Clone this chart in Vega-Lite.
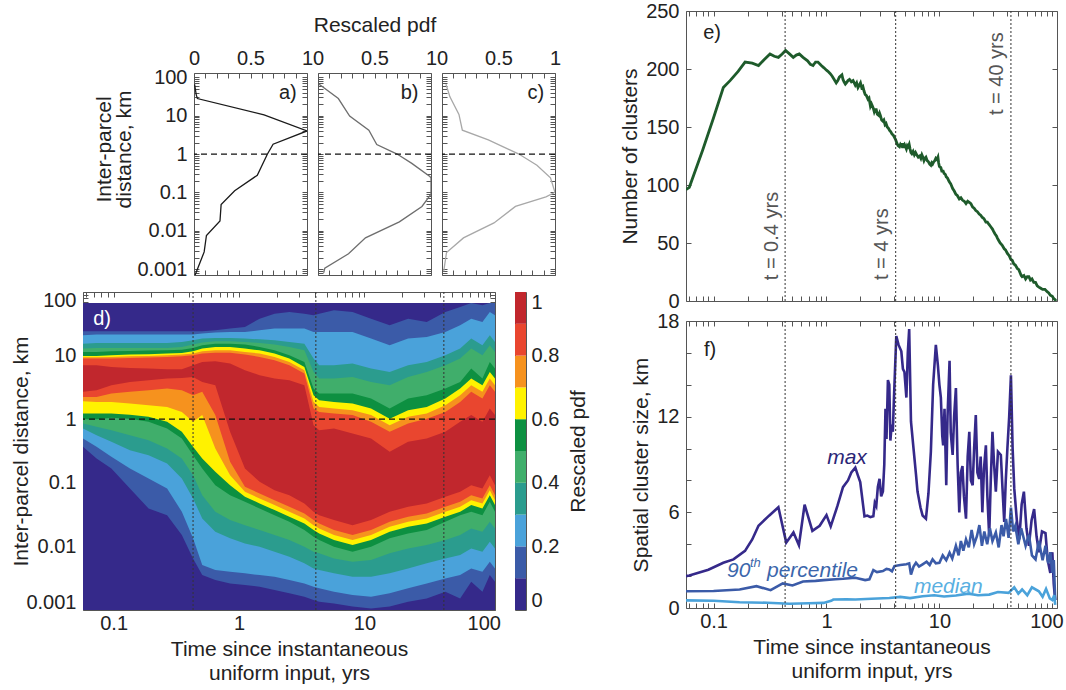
{
"$schema": "https://vega.github.io/schema/vega-lite/v6.json",
"background": "white",
"padding": {"left": 10, "top": 0, "right": 3, "bottom": 3},
"config": {
  "font": "Liberation Sans",
  "view": {"stroke": "#555", "strokeWidth": 1},
  "axis": {"labelFont": "Liberation Sans", "titleFont": "Liberation Sans", "labelFontSize": 20, "titleFontSize": 21, "titleFontWeight": "normal", "labelColor": "#222", "titleColor": "#222", "tickColor": "#555", "tickSize": -5, "tickWidth": 1, "domain": false, "grid": false, "labelOverlap": false, "labelFlush": false, "labelPadding": 12, "titlePadding": 4},
  "text": {"font": "Liberation Sans"}
},
"datasets": {
  "prof": [
    {"p":"a","x":0.005,"d":66},{"p":"a","x":0.02,"d":35},{"p":"a","x":0.03,"d":28},{"p":"a","x":0.62,"d":10.5},{"p":"a","x":1.0,"d":4.0},{"p":"a","x":0.70,"d":1.8},{"p":"a","x":0.65,"d":1.0},{"p":"a","x":0.56,"d":0.28},{"p":"a","x":0.36,"d":0.11},{"p":"a","x":0.24,"d":0.048},{"p":"a","x":0.23,"d":0.018},{"p":"a","x":0.11,"d":0.0075},{"p":"a","x":0.09,"d":0.0028},{"p":"a","x":0.01,"d":0.0007},
    {"p":"b","x":0.01,"d":66},{"p":"b","x":0.18,"d":28},{"p":"b","x":0.28,"d":9.8},{"p":"b","x":0.45,"d":4.2},{"p":"b","x":0.52,"d":1.77},{"p":"b","x":0.70,"d":1.0},{"p":"b","x":0.83,"d":0.57},{"p":"b","x":0.99,"d":0.26},{"p":"b","x":1.0,"d":0.24},{"p":"b","x":1.0,"d":0.09},{"p":"b","x":0.92,"d":0.043},{"p":"b","x":0.72,"d":0.017},{"p":"b","x":0.42,"d":0.0065},{"p":"b","x":0.27,"d":0.0025},{"p":"b","x":0.06,"d":0.00105},{"p":"b","x":0.05,"d":0.0008},
    {"p":"c","x":0.035,"d":66},{"p":"c","x":0.07,"d":31},{"p":"c","x":0.15,"d":10.8},{"p":"c","x":0.18,"d":4.2},{"p":"c","x":0.41,"d":2.35},{"p":"c","x":0.68,"d":1.0},{"p":"c","x":0.84,"d":0.51},{"p":"c","x":0.96,"d":0.24},{"p":"c","x":1.0,"d":0.1},{"p":"c","x":0.92,"d":0.076},{"p":"c","x":0.65,"d":0.043},{"p":"c","x":0.46,"d":0.016},{"p":"c","x":0.19,"d":0.0065},{"p":"c","x":0.04,"d":0.0027},{"p":"c","x":0.015,"d":0.00087}
  ],
  "cb": [
    {"k":0,"lo":0,"hi":0.1},{"k":1,"lo":0.1,"hi":0.2},{"k":2,"lo":0.2,"hi":0.3},{"k":3,"lo":0.3,"hi":0.4},{"k":4,"lo":0.4,"hi":0.5},{"k":5,"lo":0.5,"hi":0.6},{"k":6,"lo":0.6,"hi":0.7},{"k":7,"lo":0.7,"hi":0.8},{"k":8,"lo":0.8,"hi":0.9},{"k":9,"lo":0.9,"hi":1.0}
  ],
  "vl": [{"t":0.43},{"t":4.1},{"t":43}],
  "bands": [
    {"t":0.057,"k":0,"lo":0.001,"hi":67},{"t":110,"k":0,"lo":0.001,"hi":67},
    {"t":0.057,"k":1,"lo":0.368,"hi":24.1},{"t":0.0731,"k":1,"lo":0.241,"hi":24.1},{"t":0.096,"k":1,"lo":0.168,"hi":24.1},{"t":0.135,"k":1,"lo":0.0815,"hi":24.1},{"t":0.19,"k":1,"lo":0.0395,"hi":24.1},{"t":0.267,"k":1,"lo":0.031,"hi":24.1},{"t":0.35,"k":1,"lo":0.0151,"hi":24.1},{"t":0.43,"k":1,"lo":0.00648,"hi":24.1},{"t":0.509,"k":1,"lo":0.00354,"hi":24.1},{"t":0.647,"k":1,"lo":0.00296,"hi":25},{"t":0.849,"k":1,"lo":0.00262,"hi":26.6},{"t":1.115,"k":1,"lo":0.00247,"hi":28.2},{"t":1.46,"k":1,"lo":0.00232,"hi":38.1},{"t":1.92,"k":1,"lo":0.00206,"hi":45.7},{"t":2.52,"k":1,"lo":0.00183,"hi":48.5},{"t":3.32,"k":1,"lo":0.00162,"hi":45.7},{"t":3.93,"k":1,"lo":0.00144,"hi":43},{"t":4.36,"k":1,"lo":0.00135,"hi":45.7},{"t":5.72,"k":1,"lo":0.00127,"hi":51.5},{"t":8.04,"k":1,"lo":0.00113,"hi":48.5},{"t":11.3,"k":1,"lo":0.00106,"hi":38.1},{"t":15.9,"k":1,"lo":0.00113,"hi":29.9},{"t":22.3,"k":1,"lo":0.00135,"hi":38.1},{"t":31.4,"k":1,"lo":0.00152,"hi":33.8},{"t":44.2,"k":1,"lo":0.00194,"hi":48.5},{"t":58,"k":1,"lo":0.00152,"hi":58.1},{"t":71.1,"k":1,"lo":0.00279,"hi":67},{"t":87.3,"k":1,"lo":0.00194,"hi":61.7},{"t":100,"k":1,"lo":0.00354,"hi":67},{"t":110,"k":1,"lo":0.00279,"hi":67},
    {"t":0.057,"k":2,"lo":0.497,"hi":20.9},{"t":0.0731,"k":2,"lo":0.368,"hi":21.4},{"t":0.096,"k":2,"lo":0.256,"hi":21.4},{"t":0.135,"k":2,"lo":0.168,"hi":21.4},{"t":0.19,"k":2,"lo":0.117,"hi":21.4},{"t":0.267,"k":2,"lo":0.0815,"hi":21.4},{"t":0.35,"k":2,"lo":0.035,"hi":21.4},{"t":0.43,"k":2,"lo":0.0134,"hi":21.4},{"t":0.509,"k":2,"lo":0.00509,"hi":22.2},{"t":0.647,"k":2,"lo":0.00425,"hi":23},{"t":0.849,"k":2,"lo":0.004,"hi":23.5},{"t":1.115,"k":2,"lo":0.00377,"hi":23.5},{"t":1.46,"k":2,"lo":0.00354,"hi":25},{"t":1.92,"k":2,"lo":0.00334,"hi":26.6},{"t":2.52,"k":2,"lo":0.00296,"hi":26.6},{"t":3.32,"k":2,"lo":0.00262,"hi":26.6},{"t":3.93,"k":2,"lo":0.00232,"hi":23.5},{"t":4.36,"k":2,"lo":0.00219,"hi":23.5},{"t":5.72,"k":2,"lo":0.00194,"hi":23.5},{"t":8.04,"k":2,"lo":0.00172,"hi":23.5},{"t":11.3,"k":2,"lo":0.00162,"hi":18.5},{"t":15.9,"k":2,"lo":0.00183,"hi":14.5},{"t":22.3,"k":2,"lo":0.00219,"hi":18.5},{"t":31.4,"k":2,"lo":0.00262,"hi":19.6},{"t":44.2,"k":2,"lo":0.00314,"hi":23.5},{"t":58,"k":2,"lo":0.00354,"hi":29.9},{"t":71.1,"k":2,"lo":0.00451,"hi":38.1},{"t":87.3,"k":2,"lo":0.004,"hi":33.8},{"t":100,"k":2,"lo":0.00574,"hi":48.5},{"t":110,"k":2,"lo":0.00451,"hi":43},
    {"t":0.057,"k":3,"lo":0.714,"hi":15.4},{"t":0.0731,"k":3,"lo":0.561,"hi":15.8},{"t":0.096,"k":3,"lo":0.441,"hi":15.8},{"t":0.135,"k":3,"lo":0.326,"hi":15.8},{"t":0.19,"k":3,"lo":0.272,"hi":15.8},{"t":0.267,"k":3,"lo":0.201,"hi":15.8},{"t":0.35,"k":3,"lo":0.117,"hi":16.4},{"t":0.43,"k":3,"lo":0.0567,"hi":17.4},{"t":0.509,"k":3,"lo":0.0275,"hi":18.5},{"t":0.647,"k":3,"lo":0.017,"hi":18.9},{"t":0.849,"k":3,"lo":0.0134,"hi":18.9},{"t":1.115,"k":3,"lo":0.0111,"hi":18.5},{"t":1.46,"k":3,"lo":0.00988,"hi":18},{"t":1.92,"k":3,"lo":0.00825,"hi":17.4},{"t":2.52,"k":3,"lo":0.00688,"hi":16.4},{"t":3.32,"k":3,"lo":0.00541,"hi":15.4},{"t":3.93,"k":3,"lo":0.00451,"hi":8.97},{"t":4.36,"k":3,"lo":0.00425,"hi":7.05},{"t":5.72,"k":3,"lo":0.00377,"hi":7.05},{"t":8.04,"k":3,"lo":0.00334,"hi":7.49},{"t":11.3,"k":3,"lo":0.00334,"hi":6.25},{"t":15.9,"k":3,"lo":0.00377,"hi":5.54},{"t":22.3,"k":3,"lo":0.00451,"hi":7.05},{"t":31.4,"k":3,"lo":0.00541,"hi":7.95},{"t":44.2,"k":3,"lo":0.00648,"hi":10.1},{"t":58,"k":3,"lo":0.00731,"hi":12.9},{"t":71.1,"k":3,"lo":0.0093,"hi":18.5},{"t":87.3,"k":3,"lo":0.00825,"hi":14.5},{"t":100,"k":3,"lo":0.0118,"hi":20.9},{"t":110,"k":3,"lo":0.0093,"hi":16.4},
    {"t":0.057,"k":4,"lo":0.855,"hi":12.9},{"t":0.0731,"k":4,"lo":0.758,"hi":13.2},{"t":0.096,"k":4,"lo":0.672,"hi":13.2},{"t":0.135,"k":4,"lo":0.561,"hi":13.2},{"t":0.19,"k":4,"lo":0.468,"hi":13.2},{"t":0.267,"k":4,"lo":0.346,"hi":13.2},{"t":0.35,"k":4,"lo":0.241,"hi":13.7},{"t":0.43,"k":4,"lo":0.132,"hi":14.9},{"t":0.509,"k":4,"lo":0.064,"hi":16},{"t":0.647,"k":4,"lo":0.035,"hi":16.8},{"t":0.849,"k":4,"lo":0.0259,"hi":16.8},{"t":1.115,"k":4,"lo":0.0216,"hi":16.4},{"t":1.46,"k":4,"lo":0.0181,"hi":15.8},{"t":1.92,"k":4,"lo":0.0151,"hi":14.9},{"t":2.52,"k":4,"lo":0.0126,"hi":13.7},{"t":3.32,"k":4,"lo":0.00988,"hi":12.1},{"t":3.93,"k":4,"lo":0.00825,"hi":5.54},{"t":4.36,"k":4,"lo":0.00777,"hi":4.35},{"t":5.72,"k":4,"lo":0.00648,"hi":4.35},{"t":8.04,"k":4,"lo":0.00574,"hi":4.62},{"t":11.3,"k":4,"lo":0.0061,"hi":3.86},{"t":15.9,"k":4,"lo":0.00777,"hi":3.42},{"t":22.3,"k":4,"lo":0.0093,"hi":4.62},{"t":31.4,"k":4,"lo":0.0105,"hi":5.54},{"t":44.2,"k":4,"lo":0.0126,"hi":7.05},{"t":58,"k":4,"lo":0.0151,"hi":8.97},{"t":71.1,"k":4,"lo":0.0192,"hi":12.9},{"t":87.3,"k":4,"lo":0.017,"hi":10.1},{"t":100,"k":4,"lo":0.0244,"hi":14.5},{"t":110,"k":4,"lo":0.0192,"hi":11.4},
    {"t":0.057,"k":5,"lo":1.0,"hi":11.4},{"t":0.0731,"k":5,"lo":1.0,"hi":11.4},{"t":0.096,"k":5,"lo":1.05,"hi":11.7},{"t":0.135,"k":5,"lo":1.02,"hi":11.8},{"t":0.19,"k":5,"lo":0.908,"hi":12},{"t":0.267,"k":5,"lo":0.714,"hi":12.1},{"t":0.35,"k":5,"lo":0.497,"hi":12.4},{"t":0.43,"k":5,"lo":0.272,"hi":13.2},{"t":0.509,"k":5,"lo":0.168,"hi":14.5},{"t":0.647,"k":5,"lo":0.0919,"hi":15.4},{"t":0.849,"k":5,"lo":0.064,"hi":15.4},{"t":1.115,"k":5,"lo":0.0503,"hi":14.9},{"t":1.46,"k":5,"lo":0.0395,"hi":13.7},{"t":1.92,"k":5,"lo":0.031,"hi":12.1},{"t":2.52,"k":5,"lo":0.0244,"hi":10.1},{"t":3.32,"k":5,"lo":0.0181,"hi":7.95},{"t":3.93,"k":5,"lo":0.0142,"hi":3.03},{"t":4.36,"k":5,"lo":0.0126,"hi":2.53},{"t":5.72,"k":5,"lo":0.00988,"hi":2.53},{"t":8.04,"k":5,"lo":0.00825,"hi":2.53},{"t":11.3,"k":5,"lo":0.00988,"hi":2.11},{"t":15.9,"k":5,"lo":0.0134,"hi":1.47},{"t":22.3,"k":5,"lo":0.016,"hi":2.11},{"t":31.4,"k":5,"lo":0.0181,"hi":2.38},{"t":44.2,"k":5,"lo":0.0244,"hi":3.03},{"t":58,"k":5,"lo":0.031,"hi":3.86},{"t":71.1,"k":5,"lo":0.035,"hi":6.25},{"t":87.3,"k":5,"lo":0.031,"hi":4.35},{"t":100,"k":5,"lo":0.0503,"hi":7.95},{"t":110,"k":5,"lo":0.035,"hi":6.25},
    {"t":0.057,"k":6,"lo":1.23,"hi":9.88},{"t":0.0731,"k":6,"lo":1.23,"hi":9.88},{"t":0.096,"k":6,"lo":1.23,"hi":10.1},{"t":0.135,"k":6,"lo":1.18,"hi":10.4},{"t":0.19,"k":6,"lo":1.09,"hi":10.5},{"t":0.267,"k":6,"lo":0.908,"hi":10.8},{"t":0.35,"k":6,"lo":0.633,"hi":11},{"t":0.43,"k":6,"lo":0.368,"hi":11.7},{"t":0.509,"k":6,"lo":0.241,"hi":12.9},{"t":0.647,"k":6,"lo":0.149,"hi":13.7},{"t":0.849,"k":6,"lo":0.0919,"hi":13.7},{"t":1.115,"k":6,"lo":0.0603,"hi":12.9},{"t":1.46,"k":6,"lo":0.0474,"hi":12.1},{"t":1.92,"k":6,"lo":0.0372,"hi":10.8},{"t":2.52,"k":6,"lo":0.0292,"hi":8.97},{"t":3.32,"k":6,"lo":0.023,"hi":6.64},{"t":3.93,"k":6,"lo":0.0181,"hi":2.38},{"t":4.36,"k":6,"lo":0.016,"hi":1.99},{"t":5.72,"k":6,"lo":0.0126,"hi":1.87},{"t":8.04,"k":6,"lo":0.0105,"hi":1.76},{"t":11.3,"k":6,"lo":0.0126,"hi":1.47},{"t":15.9,"k":6,"lo":0.017,"hi":1.02},{"t":22.3,"k":6,"lo":0.0204,"hi":1.38},{"t":31.4,"k":6,"lo":0.023,"hi":1.56},{"t":44.2,"k":6,"lo":0.0292,"hi":2.11},{"t":58,"k":6,"lo":0.035,"hi":3.03},{"t":71.1,"k":6,"lo":0.0446,"hi":4.35},{"t":87.3,"k":6,"lo":0.0395,"hi":3.42},{"t":100,"k":6,"lo":0.064,"hi":5.54},{"t":110,"k":6,"lo":0.0446,"hi":4.35},
    {"t":0.057,"k":7,"lo":1.92,"hi":9.42},{"t":0.0731,"k":7,"lo":1.87,"hi":9.42},{"t":0.096,"k":7,"lo":1.87,"hi":9.53},{"t":0.135,"k":7,"lo":1.76,"hi":9.76},{"t":0.19,"k":7,"lo":1.66,"hi":9.88},{"t":0.267,"k":7,"lo":1.56,"hi":10.1},{"t":0.35,"k":7,"lo":1.3,"hi":10.4},{"t":0.43,"k":7,"lo":0.908,"hi":10.8},{"t":0.509,"k":7,"lo":1.16,"hi":11.7},{"t":0.647,"k":7,"lo":0.346,"hi":12.1},{"t":0.849,"k":7,"lo":0.132,"hi":12.1},{"t":1.115,"k":7,"lo":0.0722,"hi":11.4},{"t":1.46,"k":7,"lo":0.0567,"hi":10.8},{"t":1.92,"k":7,"lo":0.0446,"hi":9.53},{"t":2.52,"k":7,"lo":0.035,"hi":7.95},{"t":3.32,"k":7,"lo":0.0275,"hi":5.89},{"t":3.93,"k":7,"lo":0.0216,"hi":1.87},{"t":4.36,"k":7,"lo":0.0192,"hi":1.56},{"t":5.72,"k":7,"lo":0.0151,"hi":1.47},{"t":8.04,"k":7,"lo":0.0126,"hi":1.38},{"t":11.3,"k":7,"lo":0.0151,"hi":1.16},{"t":15.9,"k":7,"lo":0.0204,"hi":0.805},{"t":22.3,"k":7,"lo":0.0244,"hi":1.09},{"t":31.4,"k":7,"lo":0.0275,"hi":1.23},{"t":44.2,"k":7,"lo":0.035,"hi":1.66},{"t":58,"k":7,"lo":0.042,"hi":2.38},{"t":71.1,"k":7,"lo":0.0534,"hi":3.42},{"t":87.3,"k":7,"lo":0.0474,"hi":2.69},{"t":100,"k":7,"lo":0.0767,"hi":4.35},{"t":110,"k":7,"lo":0.0534,"hi":3.42},
    {"t":0.057,"k":8,"lo":2.24,"hi":8.97},{"t":0.0731,"k":8,"lo":2.24,"hi":8.97},{"t":0.096,"k":8,"lo":2.53,"hi":8.97},{"t":0.135,"k":8,"lo":2.69,"hi":9.19},{"t":0.19,"k":8,"lo":2.85,"hi":9.3},{"t":0.267,"k":8,"lo":3.03,"hi":9.53},{"t":0.35,"k":8,"lo":2.85,"hi":9.76},{"t":0.43,"k":8,"lo":2.38,"hi":10.1},{"t":0.509,"k":8,"lo":2.69,"hi":10.8},{"t":0.647,"k":8,"lo":1.16,"hi":11.1},{"t":0.849,"k":8,"lo":0.214,"hi":11.1},{"t":1.115,"k":8,"lo":0.0866,"hi":10.4},{"t":1.46,"k":8,"lo":0.068,"hi":9.53},{"t":1.92,"k":8,"lo":0.0534,"hi":8.45},{"t":2.52,"k":8,"lo":0.042,"hi":7.05},{"t":3.32,"k":8,"lo":0.033,"hi":5.22},{"t":3.93,"k":8,"lo":0.0259,"hi":1.47},{"t":4.36,"k":8,"lo":0.023,"hi":1.3},{"t":5.72,"k":8,"lo":0.0181,"hi":1.23},{"t":8.04,"k":8,"lo":0.0151,"hi":1.16},{"t":11.3,"k":8,"lo":0.0181,"hi":0.908},{"t":15.9,"k":8,"lo":0.0244,"hi":0.633},{"t":22.3,"k":8,"lo":0.0292,"hi":0.855},{"t":31.4,"k":8,"lo":0.033,"hi":1.02},{"t":44.2,"k":8,"lo":0.042,"hi":1.3},{"t":58,"k":8,"lo":0.0503,"hi":1.87},{"t":71.1,"k":8,"lo":0.064,"hi":2.69},{"t":87.3,"k":8,"lo":0.0567,"hi":2.11},{"t":100,"k":8,"lo":0.0919,"hi":3.42},{"t":110,"k":8,"lo":0.064,"hi":2.69},
    {"t":0.057,"k":9,"lo":2.69,"hi":7.05},{"t":0.0731,"k":9,"lo":2.85,"hi":7.05},{"t":0.096,"k":9,"lo":3.42,"hi":6.64},{"t":0.135,"k":9,"lo":3.86,"hi":6.4},{"t":0.19,"k":9,"lo":4.1,"hi":6.25},{"t":0.267,"k":9,"lo":4.35,"hi":6.1},{"t":0.35,"k":9,"lo":4.46,"hi":6.1},{"t":0.43,"k":9,"lo":4.62,"hi":7.05},{"t":0.509,"k":9,"lo":3.86,"hi":7.95},{"t":0.647,"k":9,"lo":3.42,"hi":8.15},{"t":0.849,"k":9,"lo":0.633,"hi":7.49},{"t":1.115,"k":9,"lo":0.168,"hi":5.89},{"t":1.46,"k":9,"lo":0.104,"hi":4.91},{"t":1.92,"k":9,"lo":0.0767,"hi":4.35},{"t":2.52,"k":9,"lo":0.064,"hi":4.1},{"t":3.32,"k":9,"lo":0.0474,"hi":3.42},{"t":3.93,"k":9,"lo":0.035,"hi":0.805},{"t":4.36,"k":9,"lo":0.031,"hi":0.672},{"t":5.72,"k":9,"lo":0.0259,"hi":0.714},{"t":8.04,"k":9,"lo":0.0216,"hi":0.596},{"t":11.3,"k":9,"lo":0.0259,"hi":0.497},{"t":15.9,"k":9,"lo":0.035,"hi":0.307},{"t":22.3,"k":9,"lo":0.042,"hi":0.441},{"t":31.4,"k":9,"lo":0.0474,"hi":0.497},{"t":44.2,"k":9,"lo":0.0603,"hi":0.633},{"t":58,"k":9,"lo":0.0722,"hi":0.908},{"t":71.1,"k":9,"lo":0.0919,"hi":1.16},{"t":87.3,"k":9,"lo":0.0815,"hi":0.908},{"t":100,"k":9,"lo":0.132,"hi":1.47},{"t":110,"k":9,"lo":0.0919,"hi":1.16}
  ],
  "e": [
    {"t":0.057,"n":96},{"t":0.061,"n":98},{"t":0.08,"n":130},{"t":0.1,"n":158},{"t":0.122,"n":184},{"t":0.14,"n":190},{"t":0.165,"n":198},{"t":0.19,"n":206},{"t":0.22,"n":205},{"t":0.25,"n":203},{"t":0.28,"n":208},{"t":0.316,"n":213},{"t":0.345,"n":211},{"t":0.375,"n":210},{"t":0.405,"n":213},{"t":0.434,"n":216},{"t":0.47,"n":213},{"t":0.508,"n":210},{"t":0.54,"n":212},{"t":0.574,"n":213},{"t":0.62,"n":210},{"t":0.68,"n":207},{"t":0.72,"n":204},{"t":0.76,"n":203},{"t":0.8,"n":206},{"t":0.84,"n":206},{"t":0.9,"n":203},{"t":0.95,"n":201},{"t":1.0,"n":199},{"t":1.03,"n":198},{"t":1.08,"n":196},{"t":1.12,"n":194},{"t":1.17,"n":191},{"t":1.22,"n":188},{"t":1.26,"n":190},{"t":1.3,"n":193},{"t":1.37,"n":195},{"t":1.4,"n":191},{"t":1.43,"n":189},{"t":1.47,"n":187},{"t":1.5,"n":188},{"t":1.55,"n":190},{"t":1.6,"n":191},{"t":1.66,"n":189},{"t":1.72,"n":190},{"t":1.76,"n":188},{"t":1.8,"n":186},{"t":1.85,"n":188},{"t":1.9,"n":184},{"t":1.95,"n":186},{"t":2.0,"n":188},{"t":2.05,"n":184},{"t":2.1,"n":185},{"t":2.15,"n":181},{"t":2.2,"n":178},{"t":2.26,"n":177},{"t":2.33,"n":174},{"t":2.38,"n":175},{"t":2.45,"n":168},{"t":2.5,"n":170},{"t":2.55,"n":168},{"t":2.6,"n":166},{"t":2.65,"n":163},{"t":2.7,"n":165},{"t":2.76,"n":165},{"t":2.82,"n":161},{"t":2.9,"n":160},{"t":2.95,"n":162},{"t":3.0,"n":160},{"t":3.08,"n":156},{"t":3.16,"n":155},{"t":3.22,"n":156},{"t":3.3,"n":152},{"t":3.37,"n":153},{"t":3.45,"n":150},{"t":3.53,"n":149},{"t":3.62,"n":147},{"t":3.7,"n":146},{"t":3.8,"n":144},{"t":3.9,"n":143},{"t":4.0,"n":141},{"t":4.1,"n":139},{"t":4.2,"n":136},{"t":4.3,"n":134},{"t":4.43,"n":133},{"t":4.52,"n":135},{"t":4.6,"n":134},{"t":4.68,"n":136},{"t":4.75,"n":132},{"t":4.82,"n":134},{"t":4.9,"n":135},{"t":5.0,"n":133},{"t":5.1,"n":131},{"t":5.2,"n":134},{"t":5.3,"n":133},{"t":5.4,"n":135},{"t":5.5,"n":131},{"t":5.6,"n":128},{"t":5.7,"n":127},{"t":5.85,"n":129},{"t":6.0,"n":126},{"t":6.15,"n":128},{"t":6.3,"n":126},{"t":6.5,"n":124},{"t":6.7,"n":125},{"t":6.85,"n":123},{"t":7.0,"n":126},{"t":7.15,"n":124},{"t":7.3,"n":121},{"t":7.45,"n":123},{"t":7.6,"n":124},{"t":7.8,"n":121},{"t":8.0,"n":120},{"t":8.2,"n":118},{"t":8.4,"n":117},{"t":8.55,"n":119},{"t":8.7,"n":118},{"t":8.9,"n":120},{"t":9.1,"n":121},{"t":9.3,"n":123},{"t":9.5,"n":122},{"t":9.7,"n":124},{"t":9.85,"n":119},{"t":10.0,"n":116},{"t":10.3,"n":115},{"t":10.5,"n":112},{"t":10.8,"n":112},{"t":11.0,"n":110},{"t":11.3,"n":109},{"t":11.5,"n":107},{"t":11.8,"n":106},{"t":12.2,"n":103},{"t":12.6,"n":101},{"t":13.1,"n":97},{"t":13.5,"n":95},{"t":14.0,"n":92},{"t":14.4,"n":91},{"t":15.0,"n":88},{"t":15.5,"n":89},{"t":16.0,"n":87},{"t":16.6,"n":86},{"t":17.2,"n":84},{"t":17.8,"n":86},{"t":18.4,"n":85},{"t":19.0,"n":84},{"t":19.7,"n":81},{"t":20.3,"n":80},{"t":21.0,"n":78},{"t":21.7,"n":77},{"t":22.5,"n":75},{"t":23.2,"n":74},{"t":24.0,"n":72},{"t":24.8,"n":71},{"t":25.8,"n":68},{"t":26.6,"n":68},{"t":27.5,"n":66},{"t":28.5,"n":64},{"t":29.5,"n":62},{"t":30.2,"n":60},{"t":31.0,"n":58},{"t":32.0,"n":56},{"t":32.7,"n":54},{"t":33.6,"n":52},{"t":34.5,"n":50},{"t":36.0,"n":48},{"t":37.5,"n":45},{"t":38.5,"n":44},{"t":40.0,"n":41},{"t":41.5,"n":39},{"t":42.9,"n":36},{"t":44.2,"n":35},{"t":45.5,"n":32},{"t":47.0,"n":31},{"t":49.0,"n":28},{"t":50.5,"n":27},{"t":52.0,"n":24},{"t":53.0,"n":22},{"t":54.0,"n":21},{"t":56.0,"n":22},{"t":58.0,"n":19},{"t":60.0,"n":21},{"t":62.0,"n":21},{"t":64.0,"n":18},{"t":66.0,"n":19},{"t":68.5,"n":16},{"t":71.0,"n":16},{"t":73.5,"n":13},{"t":76.0,"n":12},{"t":79.0,"n":11},{"t":82.0,"n":10},{"t":86.0,"n":10},{"t":90.0,"n":8},{"t":93.0,"n":7},{"t":96.0,"n":5},{"t":100.0,"n":4},{"t":103.0,"n":2},{"t":106.0,"n":1},{"t":108.0,"n":0}
  ],
  "f": [
    {"s":"max","t":0.057,"v":2.0},{"s":"max","t":0.061,"v":2.04},{"s":"max","t":0.09,"v":2.4},{"s":"max","t":0.122,"v":2.84},{"s":"max","t":0.15,"v":3.05},{"s":"max","t":0.19,"v":3.58},{"s":"max","t":0.22,"v":4.3},{"s":"max","t":0.25,"v":5.16},{"s":"max","t":0.31,"v":5.79},{"s":"max","t":0.375,"v":6.32},{"s":"max","t":0.44,"v":4.1},{"s":"max","t":0.51,"v":4.74},{"s":"max","t":0.57,"v":3.94},{"s":"max","t":0.64,"v":6.48},{"s":"max","t":0.75,"v":4.84},{"s":"max","t":0.87,"v":5.16},{"s":"max","t":1.0,"v":5.83},{"s":"max","t":1.09,"v":5.12},{"s":"max","t":1.25,"v":6.4},{"s":"max","t":1.4,"v":7.58},{"s":"max","t":1.55,"v":8.0},{"s":"max","t":1.66,"v":8.5},{"s":"max","t":1.8,"v":8.8},{"s":"max","t":1.9,"v":8.3},{"s":"max","t":1.99,"v":7.9},{"s":"max","t":2.17,"v":5.75},{"s":"max","t":2.3,"v":5.8},{"s":"max","t":2.45,"v":5.7},{"s":"max","t":2.6,"v":5.75},{"s":"max","t":2.68,"v":6.6},{"s":"max","t":2.76,"v":6.4},{"s":"max","t":2.85,"v":7.6},{"s":"max","t":2.95,"v":8.1},{"s":"max","t":3.05,"v":7.0},{"s":"max","t":3.16,"v":7.3},{"s":"max","t":3.25,"v":9.0},{"s":"max","t":3.33,"v":12.5},{"s":"max","t":3.4,"v":10.6},{"s":"max","t":3.5,"v":14.3},{"s":"max","t":3.6,"v":14.0},{"s":"max","t":3.68,"v":10.5},{"s":"max","t":3.78,"v":11.5},{"s":"max","t":3.87,"v":11.05},{"s":"max","t":3.95,"v":13.0},{"s":"max","t":4.15,"v":17.05},{"s":"max","t":4.35,"v":16.5},{"s":"max","t":4.6,"v":16.1},{"s":"max","t":4.75,"v":15.0},{"s":"max","t":4.9,"v":14.8},{"s":"max","t":5.1,"v":13.2},{"s":"max","t":5.25,"v":16.0},{"s":"max","t":5.4,"v":17.5},{"s":"max","t":5.6,"v":11.7},{"s":"max","t":5.9,"v":10.0},{"s":"max","t":6.2,"v":8.4},{"s":"max","t":6.4,"v":7.3},{"s":"max","t":6.8,"v":6.3},{"s":"max","t":7.1,"v":5.8},{"s":"max","t":7.6,"v":5.6},{"s":"max","t":8.0,"v":7.2},{"s":"max","t":8.4,"v":9.8},{"s":"max","t":8.8,"v":14.0},{"s":"max","t":9.3,"v":16.5},{"s":"max","t":9.7,"v":15.2},{"s":"max","t":10.0,"v":14.0},{"s":"max","t":10.3,"v":13.2},{"s":"max","t":10.6,"v":10.8},{"s":"max","t":10.8,"v":10.2},{"s":"max","t":11.1,"v":12.5},{"s":"max","t":11.5,"v":7.7},{"s":"max","t":11.8,"v":12.0},{"s":"max","t":12.3,"v":15.5},{"s":"max","t":12.6,"v":11.0},{"s":"max","t":13.1,"v":9.6},{"s":"max","t":13.5,"v":12.0},{"s":"max","t":14.0,"v":13.8},{"s":"max","t":14.5,"v":9.0},{"s":"max","t":15.0,"v":6.0},{"s":"max","t":15.5,"v":8.5},{"s":"max","t":16.0,"v":8.9},{"s":"max","t":16.5,"v":7.0},{"s":"max","t":17.2,"v":5.6},{"s":"max","t":17.8,"v":9.5},{"s":"max","t":18.4,"v":11.05},{"s":"max","t":19.0,"v":8.0},{"s":"max","t":19.7,"v":7.7},{"s":"max","t":20.3,"v":10.0},{"s":"max","t":21.0,"v":12.1},{"s":"max","t":21.7,"v":8.5},{"s":"max","t":22.5,"v":8.1},{"s":"max","t":23.2,"v":9.5},{"s":"max","t":24.0,"v":6.0},{"s":"max","t":24.8,"v":8.7},{"s":"max","t":25.8,"v":10.2},{"s":"max","t":26.6,"v":7.0},{"s":"max","t":27.6,"v":4.5},{"s":"max","t":28.5,"v":8.0},{"s":"max","t":29.5,"v":11.05},{"s":"max","t":30.5,"v":9.0},{"s":"max","t":31.6,"v":7.3},{"s":"max","t":33.0,"v":9.8},{"s":"max","t":35.0,"v":9.6},{"s":"max","t":36.2,"v":7.5},{"s":"max","t":37.5,"v":5.4},{"s":"max","t":38.7,"v":8.0},{"s":"max","t":40.0,"v":10.0},{"s":"max","t":41.5,"v":12.0},{"s":"max","t":43.0,"v":14.6},{"s":"max","t":44.5,"v":10.0},{"s":"max","t":46.0,"v":7.5},{"s":"max","t":48.5,"v":5.5},{"s":"max","t":51.0,"v":4.3},{"s":"max","t":53.5,"v":6.5},{"s":"max","t":56.0,"v":7.3},{"s":"max","t":59.0,"v":5.0},{"s":"max","t":62.0,"v":3.9},{"s":"max","t":65.5,"v":5.5},{"s":"max","t":69.0,"v":6.2},{"s":"max","t":72.5,"v":4.5},{"s":"max","t":76.0,"v":3.5},{"s":"max","t":81.0,"v":4.8},{"s":"max","t":87.0,"v":4.7},{"s":"max","t":91.0,"v":3.0},{"s":"max","t":96.0,"v":2.2},{"s":"max","t":100.0,"v":3.5},{"s":"max","t":103.0,"v":1.5},{"s":"max","t":106.0,"v":0.5},
    {"s":"p90","t":0.057,"v":1.05},{"s":"p90","t":0.1,"v":1.07},{"s":"p90","t":0.17,"v":1.16},{"s":"p90","t":0.24,"v":1.37},{"s":"p90","t":0.32,"v":1.12},{"s":"p90","t":0.41,"v":1.54},{"s":"p90","t":0.5,"v":1.41},{"s":"p90","t":0.62,"v":1.66},{"s":"p90","t":0.8,"v":1.7},{"s":"p90","t":0.94,"v":1.75},{"s":"p90","t":1.2,"v":1.8},{"s":"p90","t":1.4,"v":1.83},{"s":"p90","t":1.8,"v":1.9},{"s":"p90","t":2.2,"v":1.75},{"s":"p90","t":2.4,"v":1.8},{"s":"p90","t":2.6,"v":2.38},{"s":"p90","t":2.8,"v":2.25},{"s":"p90","t":3.16,"v":2.32},{"s":"p90","t":3.4,"v":2.45},{"s":"p90","t":3.6,"v":2.42},{"s":"p90","t":3.8,"v":2.3},{"s":"p90","t":4.0,"v":2.63},{"s":"p90","t":4.5,"v":2.7},{"s":"p90","t":5.1,"v":2.74},{"s":"p90","t":5.4,"v":2.8},{"s":"p90","t":5.6,"v":2.1},{"s":"p90","t":5.9,"v":2.6},{"s":"p90","t":6.2,"v":2.84},{"s":"p90","t":6.6,"v":2.6},{"s":"p90","t":7.1,"v":2.74},{"s":"p90","t":7.7,"v":2.9},{"s":"p90","t":8.2,"v":2.7},{"s":"p90","t":8.7,"v":3.05},{"s":"p90","t":9.3,"v":2.8},{"s":"p90","t":10.0,"v":2.84},{"s":"p90","t":10.7,"v":3.3},{"s":"p90","t":11.5,"v":3.0},{"s":"p90","t":12.3,"v":3.47},{"s":"p90","t":13.0,"v":3.1},{"s":"p90","t":14.0,"v":3.9},{"s":"p90","t":14.8,"v":3.3},{"s":"p90","t":15.5,"v":4.2},{"s":"p90","t":16.3,"v":3.6},{"s":"p90","t":17.2,"v":4.3},{"s":"p90","t":18.2,"v":3.8},{"s":"p90","t":19.3,"v":4.9},{"s":"p90","t":20.3,"v":4.0},{"s":"p90","t":21.5,"v":4.5},{"s":"p90","t":22.6,"v":5.2},{"s":"p90","t":23.8,"v":3.9},{"s":"p90","t":25.0,"v":4.8},{"s":"p90","t":26.5,"v":4.0},{"s":"p90","t":28.0,"v":5.0},{"s":"p90","t":29.5,"v":4.2},{"s":"p90","t":31.6,"v":4.74},{"s":"p90","t":33.5,"v":3.8},{"s":"p90","t":35.5,"v":5.2},{"s":"p90","t":37.0,"v":4.5},{"s":"p90","t":38.9,"v":5.58},{"s":"p90","t":41.0,"v":4.4},{"s":"p90","t":43.0,"v":6.3},{"s":"p90","t":45.0,"v":4.8},{"s":"p90","t":47.0,"v":5.16},{"s":"p90","t":50.0,"v":4.0},{"s":"p90","t":53.0,"v":5.0},{"s":"p90","t":58.0,"v":3.9},{"s":"p90","t":62.0,"v":4.6},{"s":"p90","t":66.0,"v":3.3},{"s":"p90","t":71.0,"v":3.05},{"s":"p90","t":76.0,"v":4.2},{"s":"p90","t":82.0,"v":3.0},{"s":"p90","t":87.0,"v":3.9},{"s":"p90","t":92.0,"v":2.8},{"s":"p90","t":96.0,"v":3.5},{"s":"p90","t":100.0,"v":2.2},{"s":"p90","t":103.0,"v":3.0},{"s":"p90","t":106.0,"v":0.5},
    {"s":"median","t":0.057,"v":0.48},{"s":"median","t":0.1,"v":0.45},{"s":"median","t":0.17,"v":0.36},{"s":"median","t":0.3,"v":0.33},{"s":"median","t":0.47,"v":0.27},{"s":"median","t":0.7,"v":0.3},{"s":"median","t":0.94,"v":0.32},{"s":"median","t":1.1,"v":0.45},{"s":"median","t":1.15,"v":0.53},{"s":"median","t":1.5,"v":0.55},{"s":"median","t":1.8,"v":0.53},{"s":"median","t":2.5,"v":0.58},{"s":"median","t":3.6,"v":0.63},{"s":"median","t":4.5,"v":0.7},{"s":"median","t":5.5,"v":0.62},{"s":"median","t":7.1,"v":0.74},{"s":"median","t":9.0,"v":0.8},{"s":"median","t":11.0,"v":0.72},{"s":"median","t":14.0,"v":0.78},{"s":"median","t":18.0,"v":0.9},{"s":"median","t":22.0,"v":0.8},{"s":"median","t":27.6,"v":0.84},{"s":"median","t":33.0,"v":1.0},{"s":"median","t":41.0,"v":0.95},{"s":"median","t":46.0,"v":1.3},{"s":"median","t":50.0,"v":0.9},{"s":"median","t":54.0,"v":1.16},{"s":"median","t":60.0,"v":0.8},{"s":"median","t":66.0,"v":1.3},{"s":"median","t":76.0,"v":1.05},{"s":"median","t":82.0,"v":0.7},{"s":"median","t":88.0,"v":1.2},{"s":"median","t":95.0,"v":0.6},{"s":"median","t":100.0,"v":0.5},{"s":"median","t":104.0,"v":0.8},{"s":"median","t":106.0,"v":0.2}
  ]
},
"spacing": 29,
"hconcat": [
{
  "spacing": 0,
  "vconcat": [
    {"width": 1, "height": 1, "data": {"values": [{}]}, "mark": {"type": "point", "opacity": 0, "size": 1}, "view": {"stroke": "transparent"}},
    {
      "spacing": 11, "bounds": "flush",
      "hconcat": [
        {"width": 100, "height": 1, "data": {"values": [{}]}, "mark": {"type": "point", "opacity": 0, "size": 1}, "view": {"stroke": "transparent"}},
        {
          "width": 113, "height": 202,
          "layer": [
            {"data": {"name": "prof"}, "transform": [{"filter": "datum.p === 'a'"}],
             "mark": {"type": "line", "color": "#1a1a1a", "strokeWidth": 1.3, "clip": true},
             "encoding": {
               "x": {"field": "x", "type": "quantitative", "scale": {"domain": [0, 1], "nice": false, "zero": false},
                     "axis": {"orient": "top", "values": [0,0.1,0.2,0.3,0.4,0.5,0.6,0.7,0.8,0.9,1], "labelExpr": "datum.value == 0 || datum.value == 0.5 || datum.value == 1 ? format(datum.value, '~g') : ''", "labelPadding": 10, "title": null}},
               "y": {"field": "d", "type": "quantitative", "scale": {"type": "log", "domain": [0.0007, 130], "nice": false},
                     "axis": {"orient": "left", "values": [0.0008,0.0009,0.001,0.002,0.003,0.004,0.005,0.006,0.007,0.008,0.009,0.01,0.02,0.03,0.04,0.05,0.06,0.07,0.08,0.09,0.1,0.2,0.3,0.4,0.5,0.6,0.7,0.8,0.9,1,2,3,4,5,6,7,8,9,10,20,30,40,50,60,70,80,90,100], "labelExpr": "abs(log(datum.value)/LN10 - round(log(datum.value)/LN10)) < 0.001 ? format(datum.value, '~g') : ''", "title": ["Inter-parcel", "distance, km"], "titleLineHeight": 20, "titlePadding": 2, "titleY": 76}},
               "order": {"field": "d", "type": "quantitative"}
             }},
            {"data": {"values": [{}]}, "mark": {"type": "rule", "color": "#111", "strokeDash": [6, 4], "strokeWidth": 1.2}, "encoding": {"y": {"datum": 1, "type": "quantitative", "axis": null}}},
            {"data": {"values": [{}]}, "mark": {"type": "text", "fontSize": 20, "color": "#222", "align": "center", "baseline": "middle"}, "encoding": {"x": {"datum": 0.83, "type": "quantitative", "axis": null}, "y": {"datum": 40, "type": "quantitative", "axis": null}, "text": {"value": "a)"}}},
            {"data": {"name": "prof"}, "mark": {"type": "point", "opacity": 0, "size": 1},
             "encoding": {
               "x": {"field": "x", "type": "quantitative", "axis": {"orient": "bottom", "values": [0,0.1,0.2,0.3,0.4,0.5,0.6,0.7,0.8,0.9,1], "labels": false, "title": null}},
               "y": {"field": "d", "type": "quantitative", "axis": {"orient": "right", "values": [0.0008,0.0009,0.001,0.002,0.003,0.004,0.005,0.006,0.007,0.008,0.009,0.01,0.02,0.03,0.04,0.05,0.06,0.07,0.08,0.09,0.1,0.2,0.3,0.4,0.5,0.6,0.7,0.8,0.9,1,2,3,4,5,6,7,8,9,10,20,30,40,50,60,70,80,90,100], "labels": false, "title": null}}
             }}
          ],
          "resolve": {"axis": {"x": "independent", "y": "independent"}}
        },
        {
          "width": 113, "height": 202,
          "layer": [
            {"data": {"name": "prof"}, "transform": [{"filter": "datum.p === 'b'"}],
             "mark": {"type": "line", "color": "#6e6e6e", "strokeWidth": 1.3, "clip": true},
             "encoding": {
               "x": {"field": "x", "type": "quantitative", "scale": {"domain": [0, 1], "nice": false, "zero": false},
                     "axis": {"orient": "top", "values": [0,0.1,0.2,0.3,0.4,0.5,0.6,0.7,0.8,0.9,1], "labelExpr": "datum.value == 0 || datum.value == 0.5 || datum.value == 1 ? format(datum.value, '~g') : ''", "labelPadding": 10, "title": "Rescaled pdf", "titlePadding": 13}},
               "y": {"field": "d", "type": "quantitative", "scale": {"type": "log", "domain": [0.0007, 130], "nice": false},
                     "axis": {"orient": "left", "values": [0.0008,0.0009,0.001,0.002,0.003,0.004,0.005,0.006,0.007,0.008,0.009,0.01,0.02,0.03,0.04,0.05,0.06,0.07,0.08,0.09,0.1,0.2,0.3,0.4,0.5,0.6,0.7,0.8,0.9,1,2,3,4,5,6,7,8,9,10,20,30,40,50,60,70,80,90,100], "labels": false, "title": null}},
               "order": {"field": "d", "type": "quantitative"}
             }},
            {"data": {"values": [{}]}, "mark": {"type": "rule", "color": "#111", "strokeDash": [6, 4], "strokeWidth": 1.2}, "encoding": {"y": {"datum": 1, "type": "quantitative", "axis": null}}},
            {"data": {"values": [{}]}, "mark": {"type": "text", "fontSize": 20, "color": "#222", "align": "center", "baseline": "middle"}, "encoding": {"x": {"datum": 0.81, "type": "quantitative", "axis": null}, "y": {"datum": 40, "type": "quantitative", "axis": null}, "text": {"value": "b)"}}},
            {"data": {"name": "prof"}, "mark": {"type": "point", "opacity": 0, "size": 1},
             "encoding": {
               "x": {"field": "x", "type": "quantitative", "axis": {"orient": "bottom", "values": [0,0.1,0.2,0.3,0.4,0.5,0.6,0.7,0.8,0.9,1], "labels": false, "title": null}},
               "y": {"field": "d", "type": "quantitative", "axis": {"orient": "right", "values": [0.0008,0.0009,0.001,0.002,0.003,0.004,0.005,0.006,0.007,0.008,0.009,0.01,0.02,0.03,0.04,0.05,0.06,0.07,0.08,0.09,0.1,0.2,0.3,0.4,0.5,0.6,0.7,0.8,0.9,1,2,3,4,5,6,7,8,9,10,20,30,40,50,60,70,80,90,100], "labels": false, "title": null}}
             }}
          ],
          "resolve": {"axis": {"x": "independent", "y": "independent"}}
        },
        {
          "width": 113, "height": 202,
          "layer": [
            {"data": {"name": "prof"}, "transform": [{"filter": "datum.p === 'c'"}],
             "mark": {"type": "line", "color": "#a8a8a8", "strokeWidth": 1.3, "clip": true},
             "encoding": {
               "x": {"field": "x", "type": "quantitative", "scale": {"domain": [0, 1], "nice": false, "zero": false},
                     "axis": {"orient": "top", "values": [0,0.1,0.2,0.3,0.4,0.5,0.6,0.7,0.8,0.9,1], "labelExpr": "datum.value == 0 || datum.value == 0.5 || datum.value == 1 ? format(datum.value, '~g') : ''", "labelPadding": 10, "title": null}},
               "y": {"field": "d", "type": "quantitative", "scale": {"type": "log", "domain": [0.0007, 130], "nice": false},
                     "axis": {"orient": "left", "values": [0.0008,0.0009,0.001,0.002,0.003,0.004,0.005,0.006,0.007,0.008,0.009,0.01,0.02,0.03,0.04,0.05,0.06,0.07,0.08,0.09,0.1,0.2,0.3,0.4,0.5,0.6,0.7,0.8,0.9,1,2,3,4,5,6,7,8,9,10,20,30,40,50,60,70,80,90,100], "labels": false, "title": null}},
               "order": {"field": "d", "type": "quantitative"}
             }},
            {"data": {"values": [{}]}, "mark": {"type": "rule", "color": "#111", "strokeDash": [6, 4], "strokeWidth": 1.2}, "encoding": {"y": {"datum": 1, "type": "quantitative", "axis": null}}},
            {"data": {"values": [{}]}, "mark": {"type": "text", "fontSize": 20, "color": "#222", "align": "center", "baseline": "middle"}, "encoding": {"x": {"datum": 0.83, "type": "quantitative", "axis": null}, "y": {"datum": 40, "type": "quantitative", "axis": null}, "text": {"value": "c)"}}},
            {"data": {"name": "prof"}, "mark": {"type": "point", "opacity": 0, "size": 1},
             "encoding": {
               "x": {"field": "x", "type": "quantitative", "axis": {"orient": "bottom", "values": [0,0.1,0.2,0.3,0.4,0.5,0.6,0.7,0.8,0.9,1], "labels": false, "title": null}},
               "y": {"field": "d", "type": "quantitative", "axis": {"orient": "right", "values": [0.0008,0.0009,0.001,0.002,0.003,0.004,0.005,0.006,0.007,0.008,0.009,0.01,0.02,0.03,0.04,0.05,0.06,0.07,0.08,0.09,0.1,0.2,0.3,0.4,0.5,0.6,0.7,0.8,0.9,1,2,3,4,5,6,7,8,9,10,20,30,40,50,60,70,80,90,100], "labels": false, "title": null}}
             }}
          ],
          "resolve": {"axis": {"x": "independent", "y": "independent"}}
        }
      ]
    },
    {
      "spacing": 20, "bounds": "flush",
      "hconcat": [
        {
          "width": 412, "height": 318,
          "layer": [
            {"data": {"name": "bands"},
             "mark": {"type": "area", "clip": true, "interpolate": "linear"},
             "encoding": {
               "x": {"field": "t", "type": "quantitative", "scale": {"type": "log", "domain": [0.057, 110], "nice": false},
                     "axis": {"orient": "bottom", "values": [0.06,0.07,0.08,0.09,0.1,0.2,0.3,0.4,0.5,0.6,0.7,0.8,0.9,1,2,3,4,5,6,7,8,9,10,20,30,40,50,60,70,80,90,100], "labelExpr": "abs(log(datum.value)/LN10 - round(log(datum.value)/LN10)) < 0.001 ? format(datum.value, '~g') : ''", "labelOffset": {"condition": {"test": "datum.value == 100", "value": -6}, "value": 0}, "labelPadding": 8, "title": ["Time since instantaneous", "uniform input, yrs"], "titleLineHeight": 24, "titlePadding": 5}},
               "y": {"field": "lo", "type": "quantitative", "stack": null, "scale": {"type": "log", "domain": [0.001, 100], "nice": false},
                     "axis": {"orient": "left", "values": [0.001,0.002,0.003,0.004,0.005,0.006,0.007,0.008,0.009,0.01,0.02,0.03,0.04,0.05,0.06,0.07,0.08,0.09,0.1,0.2,0.3,0.4,0.5,0.6,0.7,0.8,0.9,1,2,3,4,5,6,7,8,9,10,20,30,40,50,60,70,80,90,100], "labelExpr": "abs(log(datum.value)/LN10 - round(log(datum.value)/LN10)) < 0.001 ? format(datum.value, '~g') : ''", "labelFlush": true, "labelFlushOffset": 2, "title": "Inter-parcel distance, km", "titlePadding": -6}},
               "y2": {"field": "hi"},
               "color": {"field": "k", "type": "ordinal", "scale": {"domain": [0,1,2,3,4,5,6,7,8,9], "range": ["#35298a","#3b5ba8","#4aa2da","#2b9c8e","#40ae6b","#0d9041","#fff200","#f6921e","#e9462f","#c1272d"]}, "legend": null}
             }},
            {"data": {"name": "vl"}, "mark": {"type": "rule", "color": "#333", "strokeDash": [2, 2], "strokeWidth": 1}, "encoding": {"x": {"field": "t", "type": "quantitative", "axis": null}}},
            {"data": {"values": [{}]}, "mark": {"type": "rule", "color": "#111", "strokeDash": [6, 4], "strokeWidth": 1.2}, "encoding": {"y": {"datum": 1, "type": "quantitative", "axis": null}}},
            {"data": {"values": [{}]}, "mark": {"type": "text", "fontSize": 20, "color": "white", "align": "center", "baseline": "middle"}, "encoding": {"x": {"datum": 0.081, "type": "quantitative", "axis": null}, "y": {"datum": 37, "type": "quantitative", "axis": null}, "text": {"value": "d)"}}},
            {"data": {"name": "bands"}, "mark": {"type": "point", "opacity": 0, "size": 1},
             "encoding": {
               "x": {"field": "t", "type": "quantitative", "axis": {"orient": "top", "values": [0.06,0.07,0.08,0.09,0.1,0.2,0.3,0.4,0.5,0.6,0.7,0.8,0.9,1,2,3,4,5,6,7,8,9,10,20,30,40,50,60,70,80,90,100], "labels": false, "title": null}},
               "y": {"field": "lo", "type": "quantitative", "axis": {"orient": "right", "values": [0.001,0.002,0.003,0.004,0.005,0.006,0.007,0.008,0.009,0.01,0.02,0.03,0.04,0.05,0.06,0.07,0.08,0.09,0.1,0.2,0.3,0.4,0.5,0.6,0.7,0.8,0.9,1,2,3,4,5,6,7,8,9,10,20,30,40,50,60,70,80,90,100], "labels": false, "title": null}}
             }}
          ],
          "resolve": {"axis": {"x": "independent", "y": "independent"}}
        },
        {
          "width": 11, "height": 318,
          "data": {"name": "cb"},
          "mark": {"type": "rect"},
          "encoding": {
            "y": {"field": "lo", "type": "quantitative", "scale": {"domain": [0, 1], "nice": false, "zero": false},
                  "axis": {"orient": "right", "values": [0,0.2,0.4,0.6,0.8,1], "format": "~g", "ticks": false, "labelPadding": 5, "labelFlush": true, "title": "Rescaled pdf", "titleAngle": 270, "titleBaseline": "top", "titlePadding": 9}},
            "y2": {"field": "hi"},
            "color": {"field": "k", "type": "ordinal", "scale": {"domain": [0,1,2,3,4,5,6,7,8,9], "range": ["#35298a","#3b5ba8","#4aa2da","#2b9c8e","#40ae6b","#0d9041","#fff200","#f6921e","#e9462f","#c1272d"]}, "legend": null}
          }
        }
      ]
    }
  ]
},
{
  "spacing": 20, "bounds": "flush",
  "vconcat": [
    {
      "width": 371, "height": 290,
      "layer": [
        {"data": {"name": "e"}, "mark": {"type": "line", "color": "#1e5b2b", "strokeWidth": 2.8, "clip": true},
         "encoding": {
           "x": {"field": "t", "type": "quantitative", "scale": {"type": "log", "domain": [0.057, 110], "nice": false},
                 "axis": {"orient": "bottom", "values": [0.06,0.07,0.08,0.09,0.1,0.2,0.3,0.4,0.5,0.6,0.7,0.8,0.9,1,2,3,4,5,6,7,8,9,10,20,30,40,50,60,70,80,90,100], "labels": false, "title": null}},
           "y": {"field": "n", "type": "quantitative", "scale": {"domain": [0, 250], "nice": false},
                 "axis": {"orient": "left", "values": [0,50,100,150,200,250], "title": "Number of clusters", "titlePadding": 5}}
         }},
        {"data": {"name": "vl"}, "mark": {"type": "rule", "color": "#333", "strokeDash": [2, 2], "strokeWidth": 1}, "encoding": {"x": {"field": "t", "type": "quantitative", "axis": null}}},
        {"data": {"values": [{}]}, "mark": {"type": "text", "fontSize": 20, "color": "#555", "angle": 270, "align": "center", "baseline": "middle"}, "encoding": {"x": {"datum": 0.33, "type": "quantitative", "axis": null}, "y": {"datum": 56, "type": "quantitative", "axis": null}, "text": {"value": "t = 0.4 yrs"}}},
        {"data": {"values": [{}]}, "mark": {"type": "text", "fontSize": 20, "color": "#555", "angle": 270, "align": "center", "baseline": "middle"}, "encoding": {"x": {"datum": 3.1, "type": "quantitative", "axis": null}, "y": {"datum": 49, "type": "quantitative", "axis": null}, "text": {"value": "t = 4 yrs"}}},
        {"data": {"values": [{}]}, "mark": {"type": "text", "fontSize": 20, "color": "#555", "angle": 270, "align": "center", "baseline": "middle"}, "encoding": {"x": {"datum": 32.4, "type": "quantitative", "axis": null}, "y": {"datum": 196, "type": "quantitative", "axis": null}, "text": {"value": "t = 40 yrs"}}},
        {"data": {"values": [{}]}, "mark": {"type": "text", "fontSize": 20, "color": "#222", "align": "center", "baseline": "middle"}, "encoding": {"x": {"datum": 0.097, "type": "quantitative", "axis": null}, "y": {"datum": 231, "type": "quantitative", "axis": null}, "text": {"value": "e)"}}},
        {"data": {"name": "e"}, "mark": {"type": "point", "opacity": 0, "size": 1},
         "encoding": {
           "x": {"field": "t", "type": "quantitative", "axis": {"orient": "top", "values": [0.06,0.07,0.08,0.09,0.1,0.2,0.3,0.4,0.5,0.6,0.7,0.8,0.9,1,2,3,4,5,6,7,8,9,10,20,30,40,50,60,70,80,90,100], "labels": false, "title": null}},
           "y": {"field": "n", "type": "quantitative", "axis": {"orient": "right", "values": [0,50,100,150,200,250], "labels": false, "title": null}}
         }}
      ],
      "resolve": {"axis": {"x": "independent", "y": "independent"}}
    },
    {
      "width": 371, "height": 287,
      "layer": [
        {"data": {"name": "f"}, "mark": {"type": "line", "strokeWidth": 2.6, "clip": true},
         "encoding": {
           "x": {"field": "t", "type": "quantitative", "scale": {"type": "log", "domain": [0.057, 110], "nice": false},
                 "axis": {"orient": "bottom", "values": [0.06,0.07,0.08,0.09,0.1,0.2,0.3,0.4,0.5,0.6,0.7,0.8,0.9,1,2,3,4,5,6,7,8,9,10,20,30,40,50,60,70,80,90,100], "labelExpr": "abs(log(datum.value)/LN10 - round(log(datum.value)/LN10)) < 0.001 ? format(datum.value, '~g') : ''", "labelOffset": {"condition": {"test": "datum.value == 100", "value": -6}, "value": 0}, "labelPadding": 8, "title": ["Time since instantaneous", "uniform input, yrs"], "titleLineHeight": 24, "titlePadding": 5}},
           "y": {"field": "v", "type": "quantitative", "scale": {"domain": [0, 18], "nice": false},
                 "axis": {"orient": "left", "values": [0,2,4,6,8,10,12,14,16,18], "labelExpr": "datum.value % 6 == 0 ? datum.label : ''", "title": "Spatial cluster size, km", "titlePadding": 5}},
           "color": {"field": "s", "type": "nominal", "scale": {"domain": ["max", "p90", "median"], "range": ["#2b2677", "#3b66ab", "#59afe1"]}, "legend": null}
         }},
        {"data": {"name": "vl"}, "mark": {"type": "rule", "color": "#333", "strokeDash": [2, 2], "strokeWidth": 1}, "encoding": {"x": {"field": "t", "type": "quantitative", "axis": null}}},
        {"data": {"values": [{}]}, "mark": {"type": "text", "fontSize": 21, "fontStyle": "italic", "color": "#2b2677", "align": "center", "baseline": "middle"}, "encoding": {"x": {"datum": 1.52, "type": "quantitative", "axis": null}, "y": {"datum": 9.4, "type": "quantitative", "axis": null}, "text": {"value": "max"}}},
        {"data": {"values": [{}]}, "mark": {"type": "text", "fontSize": 21, "fontStyle": "italic", "color": "#3b66ab", "align": "left", "baseline": "middle"}, "encoding": {"x": {"datum": 0.1315, "type": "quantitative", "axis": null}, "y": {"datum": 2.3, "type": "quantitative", "axis": null}, "text": {"value": "90"}}},
        {"data": {"values": [{}]}, "mark": {"type": "text", "fontSize": 13, "fontStyle": "italic", "color": "#3b66ab", "align": "left", "baseline": "middle", "dx": 23, "dy": -8}, "encoding": {"x": {"datum": 0.1315, "type": "quantitative", "axis": null}, "y": {"datum": 2.3, "type": "quantitative", "axis": null}, "text": {"value": "th"}}},
        {"data": {"values": [{}]}, "mark": {"type": "text", "fontSize": 21, "fontStyle": "italic", "color": "#3b66ab", "align": "left", "baseline": "middle", "dx": 40}, "encoding": {"x": {"datum": 0.1315, "type": "quantitative", "axis": null}, "y": {"datum": 2.3, "type": "quantitative", "axis": null}, "text": {"value": "percentile"}}},
        {"data": {"values": [{}]}, "mark": {"type": "text", "fontSize": 21, "fontStyle": "italic", "color": "#59afe1", "align": "center", "baseline": "middle"}, "encoding": {"x": {"datum": 12, "type": "quantitative", "axis": null}, "y": {"datum": 1.3, "type": "quantitative", "axis": null}, "text": {"value": "median"}}},
        {"data": {"values": [{}]}, "mark": {"type": "text", "fontSize": 20, "color": "#222", "align": "center", "baseline": "middle"}, "encoding": {"x": {"datum": 0.093, "type": "quantitative", "axis": null}, "y": {"datum": 16.2, "type": "quantitative", "axis": null}, "text": {"value": "f)"}}},
        {"data": {"name": "f"}, "mark": {"type": "point", "opacity": 0, "size": 1},
         "encoding": {
           "x": {"field": "t", "type": "quantitative", "axis": {"orient": "top", "values": [0.06,0.07,0.08,0.09,0.1,0.2,0.3,0.4,0.5,0.6,0.7,0.8,0.9,1,2,3,4,5,6,7,8,9,10,20,30,40,50,60,70,80,90,100], "labels": false, "title": null}},
           "y": {"field": "v", "type": "quantitative", "axis": {"orient": "right", "values": [0,2,4,6,8,10,12,14,16,18], "labels": false, "title": null}}
         }}
      ],
      "resolve": {"axis": {"x": "independent", "y": "independent"}}
    }
  ]
}
]
}
